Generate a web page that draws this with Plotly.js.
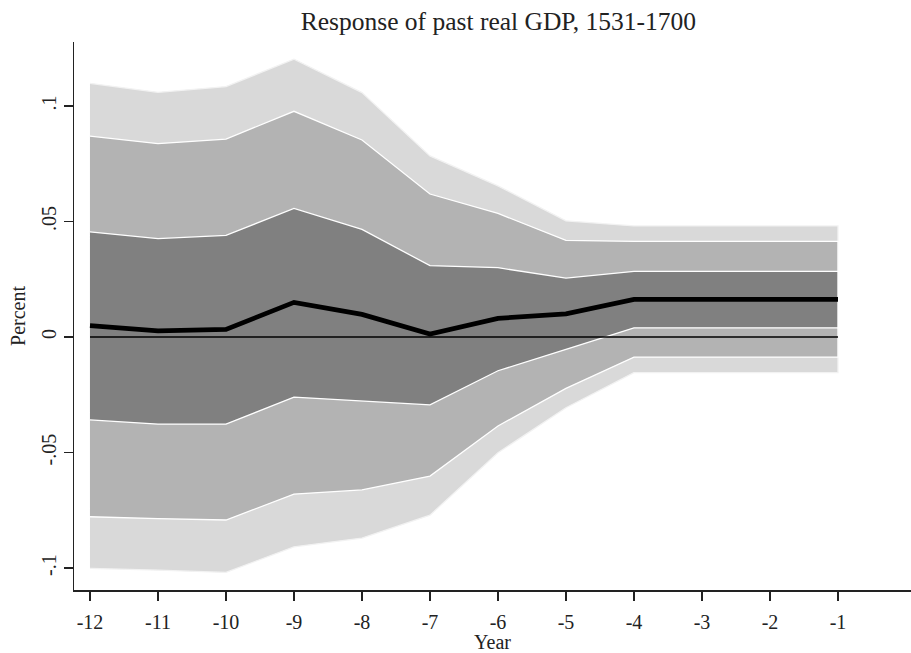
<!DOCTYPE html>
<html>
<head>
<meta charset="utf-8">
<script src="https://cdn.plot.ly/plotly-3.0.1.min.js"></script>
<style>html,body{margin:0;padding:0;background:#fff;}#chart{width:911px;height:653px;}</style>
</head>
<body>
<div id="chart"></div>
<script>
const years = [-12, -11, -10, -9, -8, -7, -6, -5, -4, -3, -2, -1];
const estimate = [0.0049, 0.0027, 0.0033, 0.0150, 0.0098, 0.0013, 0.0081, 0.0100, 0.0163, 0.0163, 0.0163, 0.0163];
const inner_upper = [0.0455, 0.0426, 0.0440, 0.0557, 0.0466, 0.0309, 0.0300, 0.0255, 0.0284, 0.0284, 0.0284, 0.0284];
const inner_lower = [-0.0359, -0.0377, -0.0377, -0.0260, -0.0276, -0.0294, -0.0146, -0.0053, 0.0040, 0.0040, 0.0040, 0.0040];
const mid_upper = [0.0870, 0.0837, 0.0857, 0.0977, 0.0853, 0.0619, 0.0535, 0.0418, 0.0414, 0.0414, 0.0414, 0.0414];
const mid_lower = [-0.0778, -0.0786, -0.0792, -0.0680, -0.0662, -0.0602, -0.0385, -0.0222, -0.0087, -0.0087, -0.0087, -0.0087];
const outer_upper = [0.1098, 0.1059, 0.1084, 0.1203, 0.1058, 0.0784, 0.0654, 0.0503, 0.0481, 0.0481, 0.0481, 0.0481];
const outer_lower = [-0.1001, -0.1009, -0.1019, -0.0908, -0.0870, -0.0771, -0.0501, -0.0306, -0.0154, -0.0154, -0.0154, -0.0154];
const yTickVals = [-0.1, -0.05, 0, 0.05, 0.1];
const yTickText = ['-.1', '-.05', '0', '.05', '.1'];
const xTickText = years.map(String);

function band(up, lo, color, lineColor) {
  return {
    x: years.concat(years.slice().reverse()),
    y: up.concat(lo.slice().reverse()),
    type: 'scatter', mode: 'lines', fill: 'toself',
    fillcolor: color,
    line: {color: lineColor, width: 1.3},
    hoverinfo: 'skip', showlegend: false
  };
}

const traces = [
  band(outer_upper, outer_lower, '#d9d9d9', '#f2f2f2'),
  band(mid_upper, mid_lower, '#b3b3b3', '#ffffff'),
  band(inner_upper, inner_lower, '#808080', '#ffffff'),
  {x: years, y: years.map(() => 0), type: 'scatter', mode: 'lines',
   line: {color: '#000', width: 1.6}, showlegend: false, hoverinfo: 'skip'},
  {x: years, y: estimate, type: 'scatter', mode: 'lines',
   line: {color: '#000', width: 4.8}, showlegend: false}
];

const fontFam = '"Liberation Serif", "DejaVu Serif", serif';
const layout = {
  width: 911, height: 653,
  margin: {l: 74, r: 0, t: 42, b: 63},
  paper_bgcolor: '#fff', plot_bgcolor: '#fff',
  font: {family: fontFam, color: '#222', size: 20},
  title: {text: 'Response of past real GDP, 1531-1700', x: 0.547, xanchor: 'center', y: 0.968, yanchor: 'middle',
          font: {family: fontFam, size: 25.5, color: '#222'}},
  xaxis: {
    range: [-12.235, 0.074], tickvals: years, ticktext: xTickText,
    ticks: 'outside', ticklen: 9, tickwidth: 1.5, tickcolor: '#222',
    showline: true, linecolor: '#222', linewidth: 1.5,
    showgrid: false, zeroline: false, ticklabelstandoff: 4,
    tickfont: {family: fontFam, size: 20, color: '#222'},
    title: {text: 'Year', font: {family: fontFam, size: 20, color: '#222'}, standoff: 2}
  },
  yaxis: {
    range: [-0.1095, 0.1277], tickvals: yTickVals, ticktext: yTickText,
    ticks: 'outside', ticklen: 9, tickwidth: 1.5, tickcolor: '#222',
    showline: true, linecolor: '#222', linewidth: 1.5,
    showgrid: false, zeroline: false, tickangle: -90,
    tickfont: {family: fontFam, size: 20, color: '#222'},
    title: {text: 'Percent', font: {family: fontFam, size: 20, color: '#222'}, standoff: 6}
  }
};

Plotly.newPlot('chart', traces, layout, {displayModeBar: false, staticPlot: true});
</script>
</body>
</html>
